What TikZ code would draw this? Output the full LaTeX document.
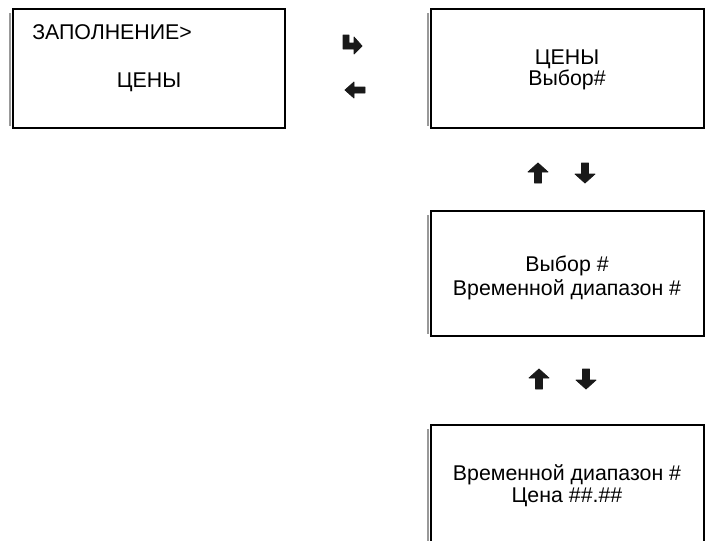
\documentclass[tikz,border=0pt]{standalone}
\usepackage{fontspec}
\setmainfont{Liberation Sans}
\begin{document}
\begin{tikzpicture}[x=0.75pt,y=-0.75pt,
  screen/.style={draw=black,line width=1.3pt,fill=white},
  shadowline/.style={draw=black!40,line width=1.2pt},
  lbl/.style={font=\fontsize{16}{19}\selectfont,inner sep=0pt,align=center},
  keyicon/.style={fill=black!90,draw=black!90,line width=0.6pt,line join=round}]
\useasboundingbox (0,0) rectangle (711,540);
% boxes with slight left shadow
\draw[shadowline] (10,13) -- (10,126);
\draw[screen] (13,9) rectangle (285,128);
\draw[shadowline] (428,13) -- (428,126);
\draw[screen] (431,9) rectangle (704,128);
\draw[shadowline] (428,215) -- (428,334);
\draw[screen] (431,211) rectangle (704,336);
\draw[shadowline] (428,429) -- (428,545);
\draw[screen] (431,425) rectangle (704,545);
% texts
\node[lbl,anchor=west] (t1) at (32,32) {ЗАПОЛНЕНИЕ>};
\node[lbl] (t2) at (149,82) {ЦЕНЫ};
\node[lbl] (t3) at (567,59) {ЦЕНЫ};
\node[lbl] (t4) at (567,79.5) {Выбор\#};
\node[lbl] (t5) at (567,266) {Выбор \#};
\node[lbl] (t6) at (567,290) {Временной диапазон \#};
\node[lbl] (t7) at (567,475) {Временной диапазон \#};
\node[lbl] (t8) at (567,497.5) {Цена \#\#.\#\#};
% key icons
\coordinate (kturn) at (352,44);
\coordinate (kleft) at (355,90);
\coordinate (ku1) at (538,173);
\coordinate (kd1) at (585,173);
\coordinate (ku2) at (539,379);
\coordinate (kd2) at (586,379);
% turn arrow
\filldraw[keyicon,shift={(kturn)}] (-9,-9) -- (-3,-9) -- (-3,-1) -- (2,-1) -- (2,-7) -- (10,2) -- (2,10) -- (2,5) -- (-9,5) -- cycle;
% left arrow
\filldraw[keyicon,shift={(kleft)}] (-10,0) -- (-1,-8) -- (-1,-3) -- (10,-3) -- (10,3) -- (-1,3) -- (-1,8) -- cycle;
% up arrows
\foreach \c in {ku1,ku2}{
  \filldraw[keyicon,shift={(\c)}] (0,-10) -- (10,-1) -- (3.5,-1) -- (3.5,10) -- (-3.5,10) -- (-3.5,-1) -- (-10,-1) -- cycle;}
% down arrows
\foreach \c in {kd1,kd2}{
  \filldraw[keyicon,shift={(\c)}] (0,10) -- (10,1) -- (3.5,1) -- (3.5,-10) -- (-3.5,-10) -- (-3.5,1) -- (-10,1) -- cycle;}
\end{tikzpicture}
\end{document}
